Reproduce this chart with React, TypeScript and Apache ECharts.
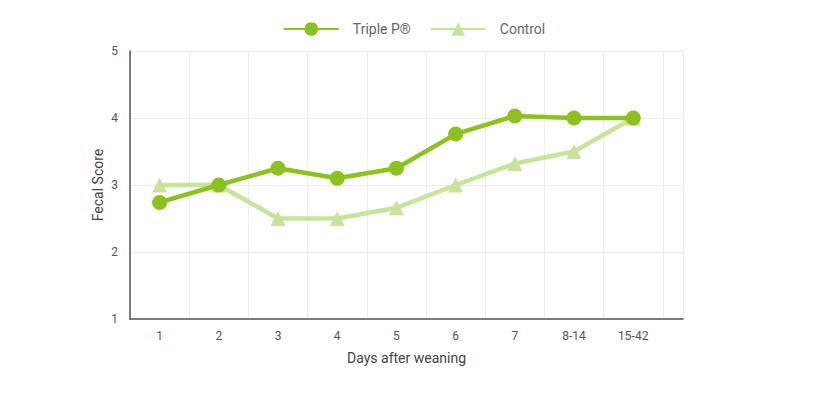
import React, { useEffect, useRef } from "react";
import * as echarts from "echarts";

const categories = ["1", "2", "3", "4", "5", "6", "7", "8-14", "15-42"];
const triplePValues = [2.74, 3.0, 3.25, 3.1, 3.25, 3.76, 4.03, 4.0, 4.0];
const controlValues = [3.0, 3.0, 2.5, 2.5, 2.66, 3.0, 3.32, 3.5, 4.0];
const yTicks = [1, 2, 3, 4, 5];

const FONT = "Roboto, 'Noto Sans', sans-serif";

export default function App() {
  const ref = useRef<HTMLDivElement>(null);
  useEffect(() => {
    if (!ref.current) return;
    const chart = echarts.init(ref.current, null, { renderer: "svg" });
    const toPairs = (vals: number[]) => vals.map((v, i) => [i + 1, v]);
    chart.setOption({
      animation: false,
      textStyle: { fontFamily: FONT },
      legend: {
        top: 9,
        left: "center",
        itemWidth: 55,
        itemHeight: 17,
        itemGap: 19,
        textStyle: { fontSize: 14, color: "#666", fontFamily: FONT, padding: [0, 0, 0, 9] },
        data: ["Triple P®", "Control"],
      },
      grid: { left: 122, right: 137, top: 43, bottom: 85, containLabel: false },
      xAxis: {
        type: "value",
        min: 0.5,
        max: 9.84,
        interval: 1,
        name: "Days after weaning",
        nameLocation: "middle",
        nameGap: 32,
        nameTextStyle: { fontSize: 14, color: "#444", fontFamily: FONT },
        axisLine: { show: true, lineStyle: { color: "#555", width: 1.5 } },
        axisTick: { show: false },
        splitLine: { show: true, lineStyle: { color: "#ececec", width: 1 } },
        axisLabel: {
          customValues: categories.map((_, i) => i + 1),
          formatter: (v: number) => categories[Math.round(v) - 1] ?? "",
          fontSize: 12,
          color: "#555",
          margin: 11,
          fontFamily: FONT,
        },
      },
      yAxis: {
        type: "value",
        min: yTicks[0],
        max: yTicks[yTicks.length - 1],
        interval: 1,
        name: "Fecal Score",
        nameLocation: "middle",
        nameGap: 25,
        nameMoveOverlap: false,
        nameTextStyle: { fontSize: 14, color: "#444", fontFamily: FONT },
        axisLine: { show: true, lineStyle: { color: "#555", width: 1.5 } },
        axisTick: { show: false },
        splitLine: { show: true, lineStyle: { color: "#ececec", width: 1 } },
        axisLabel: {
          fontSize: 12,
          color: "#555",
          margin: 12,
          verticalAlign: "middle",
          padding: [0, 0, 6, 0],
          fontFamily: FONT,
        },
      },
      series: [
        {
          name: "Triple P®",
          type: "line",
          z: 3,
          data: toPairs(triplePValues),
          symbol: "circle",
          symbolSize: 15,
          lineStyle: { width: 4.5, color: "#8cc21e" },
          itemStyle: { color: "#8cc21e" },
        },
        {
          name: "Control",
          type: "line",
          z: 2,
          data: toPairs(controlValues),
          symbol: "triangle",
          symbolSize: 15,
          lineStyle: { width: 4.5, color: "#c8e39a" },
          itemStyle: { color: "#c8e39a" },
        },
      ],
    });
    return () => chart.dispose();
  }, []);
  return <div ref={ref} style={{ width: 812, height: 396 }} />;
}
